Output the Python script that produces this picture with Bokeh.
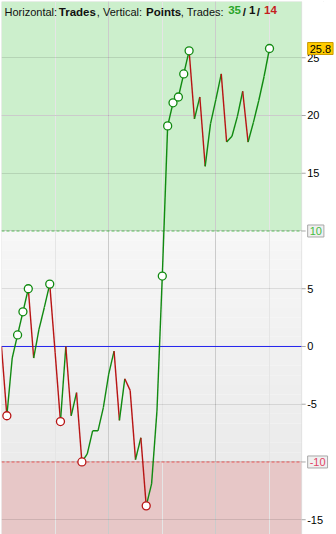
import numpy as np
from bokeh.plotting import figure
from bokeh.core.properties import value
from bokeh.models import (SingleIntervalTicker, Grid, BoxAnnotation, Span, Label,
                          ColumnDataSource)
from bokeh.embed import file_html
from bokeh.resources import INLINE

# Cumulative points after each trade (trade 0 = starting level)
equity = [0.0, -6.0, -1.0, 1.0, 3.0, 5.0, -1.0, 1.5, 3.4, 5.4,
          -0.5, -6.5, 0.0, -6.0, -4.0, -10.0, -9.3, -7.3, -7.3, -5.3,
          -2.4, -0.4, -6.4, -2.8, -3.8, -9.8, -7.9, -13.8, -11.9, -5.6,
          6.1, 19.1, 21.1, 21.6, 23.6, 25.6, 19.7, 21.6, 15.6, 19.3,
          21.4, 23.6, 17.7, 18.2, 19.9, 22.1, 17.7, 19.4, 21.3, 23.4,
          25.8]
trade_no = list(range(len(equity)))

upper_level = 10
lower_level = -10
zero_level = 0
y_tick_values = [-15, -10, -5, 0, 5, 10, 15, 20, 25]
x_grid_step = 20

GREEN = "#118a11"
RED = "#b81414"
FONT = "Liberation Sans"
PX = 5.36            # pixels per trade
PLOT_END = 56        # right edge of the chart area, in trades
X_END = 335 / PX     # canvas extends past the chart area to hold the scale

# per-trade segments, coloured by direction
x0, x1 = trade_no[:-1], trade_no[1:]
y0, y1 = equity[:-1], equity[1:]
seg_colors = [RED if b < a else GREEN for a, b in zip(y0, y1)]
wins = sum(1 for a, b in zip(y0, y1) if b > a)
flat = sum(1 for a, b in zip(y0, y1) if b == a)
losses = sum(1 for a, b in zip(y0, y1) if b < a)

# new highs / new lows get a marker
hx, hy, lx, ly = [], [], [], []
run_max = run_min = equity[0]
for i, v in zip(trade_no[1:], equity[1:]):
    if v > run_max:
        hx.append(i); hy.append(v); run_max = v
    if v < run_min:
        lx.append(i); ly.append(v); run_min = v

p = figure(width=336, height=534, x_range=(0, X_END), y_range=(-16.28, 29.87),
           output_backend="svg", toolbar_location=None,
           x_axis_location=None, y_axis_location=None,
           min_border_left=1, min_border_top=1, min_border_bottom=0,
           min_border_right=0)
p.outline_line_color = None
p.background_fill_color = "white"
p.border_fill_color = "white"

# background zones
p.add_layout(BoxAnnotation(bottom=upper_level, right=PLOT_END, fill_color="#ccefcc",
                           fill_alpha=1, line_alpha=0, level="image"))
p.add_layout(BoxAnnotation(top=lower_level, right=PLOT_END, fill_color="#e7c7c7",
                           fill_alpha=1, line_alpha=0, level="image"))
n_bands = 24
edges = np.linspace(upper_level, lower_level, n_bands + 1)
shades = np.linspace(247, 235, n_bands).astype(int)
for k in range(n_bands):
    c = "#%02x%02x%02x" % (shades[k], shades[k], shades[k])
    p.add_layout(BoxAnnotation(top=edges[k], bottom=edges[k + 1], right=PLOT_END,
                               fill_color=c, fill_alpha=1, line_alpha=0,
                               level="image"))

p.add_layout(Grid(dimension=0, ticker=SingleIntervalTicker(interval=x_grid_step),
                  grid_line_color="black", grid_line_alpha=0.11))
p.add_layout(Grid(dimension=1, ticker=SingleIntervalTicker(interval=5),
                  grid_line_color="black", grid_line_alpha=0.11))

p.add_layout(Span(location=upper_level, dimension="width", line_color="#55bb55",
                  line_dash="3 2", line_width=1, level="underlay"))
p.add_layout(Span(location=lower_level, dimension="width", line_color="#e85555",
                  line_dash="3 2", line_width=1, level="underlay"))
p.add_layout(Span(location=zero_level, dimension="width", line_color="#2222ee",
                  line_width=1, level="underlay"))

# blank strip for the price scale
p.add_layout(BoxAnnotation(left=PLOT_END, fill_color="white", fill_alpha=1,
                           line_alpha=0, level="underlay"))
# chart border and scale line
p.add_layout(BoxAnnotation(left=0, right=PLOT_END, fill_alpha=0,
                           line_color="#a8a8a8", line_width=1, level="underlay"))

src = ColumnDataSource(dict(x0=x0, x1=x1, y0=y0, y1=y1, c=seg_colors))
p.segment("x0", "y0", "x1", "y1", source=src, line_color="c", line_width=1.4)

p.scatter(hx, hy, size=8, fill_color="white", line_color=GREEN, line_width=1.3)
p.scatter(lx, ly, size=8, fill_color="white", line_color=RED, line_width=1.3)

# price scale: tick marks and labels
tick_src = ColumnDataSource(dict(
    y=y_tick_values,
    x0=[PLOT_END] * len(y_tick_values),
    x1=[PLOT_END + 4 / PX] * len(y_tick_values),
    xt=[PLOT_END + 5.5 / PX] * len(y_tick_values),
    t=["" if v in (upper_level, lower_level) else str(v) for v in y_tick_values]))
p.segment("x0", "y", "x1", "y", source=tick_src, line_color="#a8a8a8", line_width=1)
p.text("xt", "y", text="t", source=tick_src, text_font=value(FONT),
       text_font_size="11px", text_color="black", text_baseline="middle",
       text_align="left")

# boxed level labels on the scale
def scale_box(y, txt, color, fill, border):
    p.add_layout(Label(x=PLOT_END, y=y, x_offset=6, text=txt, text_font=FONT,
                       text_font_size="11px", text_color=color,
                       text_baseline="middle", text_align="left",
                       background_fill_color=fill, background_fill_alpha=1,
                       border_line_color=border, padding=2))

scale_box(upper_level, "10", "#44bb44", "#f0f0f0", "#a8a8a8")
scale_box(lower_level, "-10", "#e04466", "#f0f0f0", "#a8a8a8")
scale_box(equity[-1], "%.1f" % equity[-1], "black", "#ffcc00", "#c89a00")

# header line inside the chart
parts = [("Horizontal: ", "normal", "#111111", 3, "11px"),
         ("Trades", "bold", "#111111", 57.3, "11.5px"),
         (", Vertical: ", "normal", "#111111", 95.3, "11px"),
         ("Points", "bold", "#111111", 144.5, "11.5px"),
         (", Trades: ", "normal", "#111111", 179.3, "11px"),
         (str(wins), "bold", "#2aa52a", 226.7, "11.5px"),
         ("/", "bold", "#111111", 241.3, "11.5px"),
         (str(flat), "bold", "#111111", 247.5, "11.5px"),
         ("/", "bold", "#111111", 255.3, "11.5px"),
         (str(losses), "bold", "#c41e1e", 262.5, "11.5px")]
for txt, style, col, off, size in parts:
    p.add_layout(Label(x=0, y=29.87, x_offset=off, y_offset=-4, text=txt,
                       text_font=FONT, text_font_size=size,
                       text_font_style=style, text_color=col,
                       text_baseline="top", text_align="left"))

open("out.html", "w").write(file_html(p, INLINE))
